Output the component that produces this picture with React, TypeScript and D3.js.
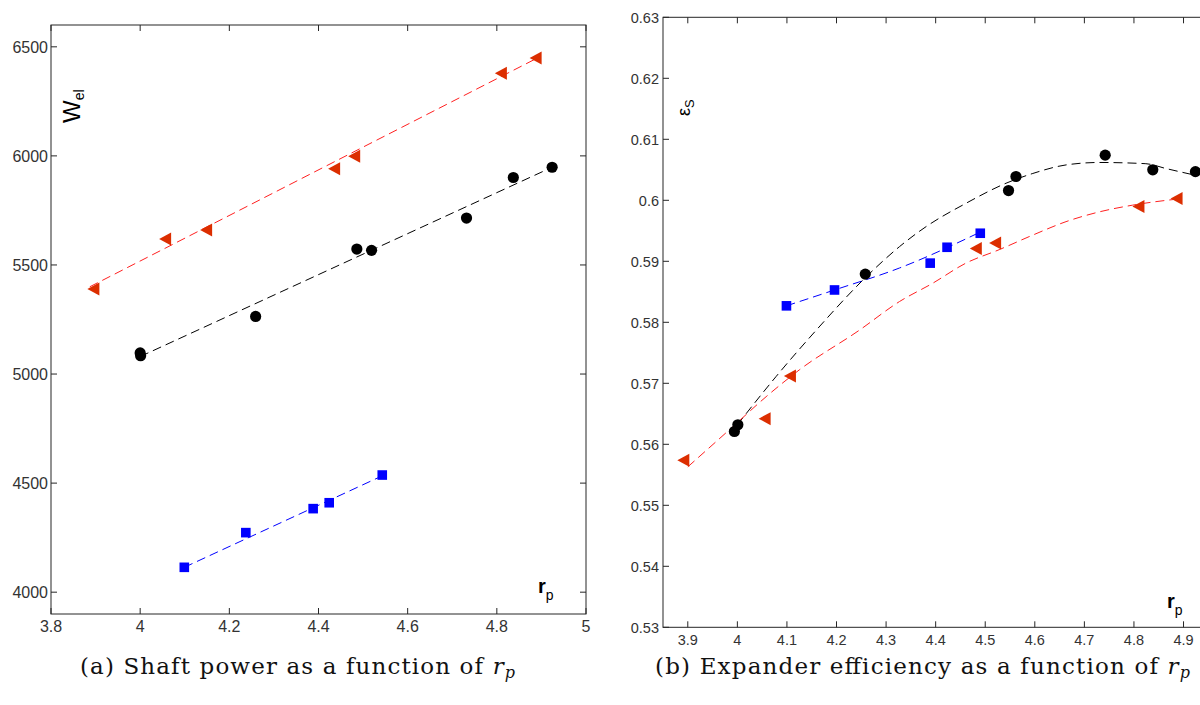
import React from 'react';
import * as d3 from 'd3';

// ---------- ticks ----------
const A_X_TICKS = [3.8, 4, 4.2, 4.4, 4.6, 4.8, 5];
const A_Y_TICKS = [4000, 4500, 5000, 5500, 6000, 6500];
const B_X_TICKS = [3.9, 4, 4.1, 4.2, 4.3, 4.4, 4.5, 4.6, 4.7, 4.8, 4.9];
const B_Y_TICKS = [0.53, 0.54, 0.55, 0.56, 0.57, 0.58, 0.59, 0.6, 0.61, 0.62, 0.63];

// ---------- (a) shaft power ----------
const A_RED_X = [3.895, 4.056, 4.148, 4.435, 4.48, 4.809, 4.887];
const A_RED_Y = [5390, 5619, 5660, 5941, 5998, 6379, 6449];
const A_BLACK_X = [4.0, 4.001, 4.259, 4.486, 4.519, 4.732, 4.837, 4.924];
const A_BLACK_Y = [5097, 5084, 5264, 5573, 5567, 5715, 5901, 5948];
const A_BLUE_X = [4.099, 4.237, 4.388, 4.424, 4.543];
const A_BLUE_Y = [4114, 4273, 4383, 4410, 4537];
const A_RED_FIT_X = [3.887, 4.897];
const A_RED_FIT_Y = [5400, 6455];
const A_BLACK_FIT_X = [4.0, 4.924];
const A_BLACK_FIT_Y = [5080, 5948];
const A_BLUE_FIT_X = [4.099, 4.55];
const A_BLUE_FIT_Y = [4114, 4540];

// ---------- (b) expander efficiency ----------
const B_RED_X = [3.891, 4.055, 4.106, 4.481, 4.52, 4.809, 4.886];
const B_RED_Y = [0.5574, 0.5642, 0.5712, 0.5921, 0.593, 0.599, 0.6003];
const B_BLACK_X = [3.994, 4.001, 4.258, 4.547, 4.562, 4.742, 4.838, 4.924];
const B_BLACK_Y = [0.5621, 0.5632, 0.5879, 0.6016, 0.6039, 0.6074, 0.605, 0.6047];
const B_BLUE_X = [4.099, 4.196, 4.389, 4.423, 4.49];
const B_BLUE_Y = [0.5827, 0.5853, 0.5897, 0.5923, 0.5946];
const B_RED_FIT_X = [3.9, 3.991, 4.058, 4.125, 4.246, 4.327, 4.394, 4.461, 4.528, 4.596, 4.663, 4.73, 4.797, 4.898];
const B_RED_FIT_Y = [0.5563, 0.5629, 0.5678, 0.5722, 0.5787, 0.5834, 0.5864, 0.5897, 0.5919, 0.5943, 0.5965, 0.5981, 0.5992, 0.6003];
const B_BLACK_FIT_X = [4.0, 4.078, 4.159, 4.258, 4.327, 4.381, 4.461, 4.542, 4.596, 4.663, 4.73, 4.824, 4.865, 4.924];
const B_BLACK_FIT_Y = [0.5632, 0.5711, 0.5787, 0.5873, 0.5924, 0.5957, 0.5995, 0.6028, 0.6044, 0.6058, 0.6062, 0.606, 0.6052, 0.6041];
const B_BLUE_FIT_X = [4.099, 4.196, 4.327, 4.498];
const B_BLUE_FIT_Y = [0.5827, 0.5853, 0.5889, 0.5951];

const RED_MARK = '#dc2e00';
const RED_LINE = '#ff2020';
const BLUE = '#0000ff';
const BLACK = '#000000';
const SANS = '"Liberation Sans", Arial, sans-serif';
const SERIF = '"DejaVu Serif", "Liberation Serif", serif';
const AXIS = '#262626';
const DASH = '9,5';

const zip = (xs: number[], ys: number[]) => xs.map((x, i) => [x, ys[i]] as [number, number]);

type Sc = d3.ScaleLinear<number, number>;

function Markers({ kind, xs, ys, x, y, color }: { kind: string; xs: number[]; ys: number[]; x: Sc; y: Sc; color: string }) {
  return (
    <g>
      {xs.map((v, i) => {
        const cx = x(v);
        const cy = y(ys[i]);
        if (kind === 'circle') return <circle key={i} cx={cx} cy={cy} r={5.6} fill={color} />;
        if (kind === 'square') return <rect key={i} x={cx - 4.8} y={cy - 4.8} width={9.6} height={9.6} fill={color} />;
        return <path key={i} d="M-6,0L6,-6.5L6,6.5Z" transform={`translate(${cx},${cy})`} fill={color} />;
      })}
    </g>
  );
}

function Fit({ xs, ys, x, y, color, smooth }: { xs: number[]; ys: number[]; x: Sc; y: Sc; color: string; smooth?: boolean }) {
  const line = d3.line<[number, number]>().x(d => x(d[0])).y(d => y(d[1])).curve(smooth ? d3.curveMonotoneX : d3.curveLinear);
  return <path d={line(zip(xs, ys)) || ''} fill="none" stroke={color} strokeWidth={1} strokeDasharray={DASH} />;
}

function Frame({ x, y, xt, yt, fontSize, xLabelY, yLabelX, clipRight }: { x: Sc; y: Sc; xt: number[]; yt: number[]; fontSize: number; xLabelY: number; yLabelX: number; clipRight?: boolean }) {
  const [x0, x1] = x.range();
  const [y0, y1] = y.range();
  const tl = 6;
  return (
    <g>
      <rect x={x0} y={y1} width={x1 - x0} height={y0 - y1} fill="none" stroke={AXIS} strokeWidth={1} />
      {xt.map((t, i) => (
        <g key={'x' + i}>
          <line x1={x(t)} x2={x(t)} y1={y0} y2={y0 - tl} stroke={AXIS} />
          <line x1={x(t)} x2={x(t)} y1={y1} y2={y1 + tl} stroke={AXIS} />
          <text x={x(t)} y={xLabelY} textAnchor="middle" fontFamily={SANS} fontSize={fontSize} fill="#333">{String(t)}</text>
        </g>
      ))}
      {yt.map((t, i) => (
        <g key={'y' + i}>
          <line x1={x0} x2={x0 + tl} y1={y(t)} y2={y(t)} stroke={AXIS} />
          {!clipRight && <line x1={x1} x2={x1 - tl} y1={y(t)} y2={y(t)} stroke={AXIS} />}
          <text x={yLabelX} y={y(t)} dy="0.36em" textAnchor="end" fontFamily={SANS} fontSize={fontSize} fill="#333">{String(t)}</text>
        </g>
      ))}
    </g>
  );
}

export default function App() {
  const ax = d3.scaleLinear().domain([3.8, 5]).range([51, 586]);
  const ay = d3.scaleLinear().domain([3900, 6600]).range([614, 25]);
  const bx = d3.scaleLinear().domain([3.85, 5.0]).range([663, 1233.1]);
  const by = d3.scaleLinear().domain([0.53, 0.63]).range([627.3, 17.3]);

  return (
    <svg width={1200} height={705} style={{ position: 'absolute', left: 0, top: 0, background: '#fff' }}>
      <rect x={0} y={0} width={1200} height={705} fill="#fff" />
      {/* ---- (a) ---- */}
      <Frame x={ax} y={ay} xt={A_X_TICKS} yt={A_Y_TICKS} fontSize={16} xLabelY={632} yLabelX={48} />
      <Fit xs={A_RED_FIT_X} ys={A_RED_FIT_Y} x={ax} y={ay} color={RED_LINE} />
      <Fit xs={A_BLACK_FIT_X} ys={A_BLACK_FIT_Y} x={ax} y={ay} color={BLACK} />
      <Fit xs={A_BLUE_FIT_X} ys={A_BLUE_FIT_Y} x={ax} y={ay} color={BLUE} />
      <Markers kind="tri" xs={A_RED_X} ys={A_RED_Y} x={ax} y={ay} color={RED_MARK} />
      <Markers kind="circle" xs={A_BLACK_X} ys={A_BLACK_Y} x={ax} y={ay} color={BLACK} />
      <Markers kind="square" xs={A_BLUE_X} ys={A_BLUE_Y} x={ax} y={ay} color={BLUE} />
      <text transform="translate(80,123) rotate(-90)" fontFamily={SANS} fontSize={24} fill="#000">
        W<tspan fontSize={14} dy={4}>el</tspan>
      </text>
      <text x={538} y={593} fontFamily={SANS} fontSize={20} fontWeight="bold" fill="#000">
        r<tspan fontSize={14} fontWeight="normal" dy={7}>p</tspan>
      </text>
      <text x={80} y={674} fontFamily={SERIF} fontSize={23} fill="#111" textLength={435} lengthAdjust="spacing">
        (a) Shaft power as a function of <tspan fontStyle="italic">r</tspan><tspan fontStyle="italic" fontSize={16} dy={4}>p</tspan>
      </text>

      {/* ---- (b) ---- */}
      <Frame x={bx} y={by} xt={B_X_TICKS} yt={B_Y_TICKS} fontSize={14.5} xLabelY={645} yLabelX={659} clipRight />
      <Fit xs={B_BLACK_FIT_X} ys={B_BLACK_FIT_Y} x={bx} y={by} color={BLACK} smooth />
      <Fit xs={B_RED_FIT_X} ys={B_RED_FIT_Y} x={bx} y={by} color={RED_LINE} smooth />
      <Fit xs={B_BLUE_FIT_X} ys={B_BLUE_FIT_Y} x={bx} y={by} color={BLUE} smooth />
      <Markers kind="tri" xs={B_RED_X} ys={B_RED_Y} x={bx} y={by} color={RED_MARK} />
      <Markers kind="circle" xs={B_BLACK_X} ys={B_BLACK_Y} x={bx} y={by} color={BLACK} />
      <Markers kind="square" xs={B_BLUE_X} ys={B_BLUE_Y} x={bx} y={by} color={BLUE} />
      <text transform="translate(690,116) rotate(-90)" fontFamily={SANS} fontSize={18} fill="#000">
        ε<tspan fontSize={13} dy={4}>S</tspan>
      </text>
      <text x={1167} y={608} fontFamily={SANS} fontSize={20} fontWeight="bold" fill="#000">
        r<tspan fontSize={14} fontWeight="normal" dy={7}>p</tspan>
      </text>
      <text x={655} y={674} fontFamily={SERIF} fontSize={23} fill="#111" textLength={535} lengthAdjust="spacing">
        (b) Expander efficiency as a function of <tspan fontStyle="italic">r</tspan><tspan fontStyle="italic" fontSize={16} dy={4}>p</tspan>
      </text>
    </svg>
  );
}
